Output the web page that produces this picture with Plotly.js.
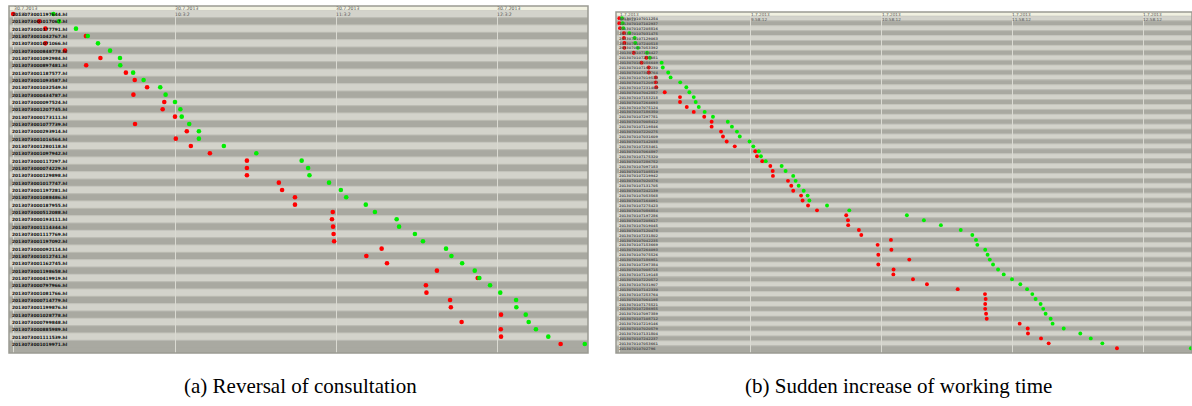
<!DOCTYPE html>
<html><head><meta charset="utf-8">
<script src="https://cdn.plot.ly/plotly-3.0.1.min.js"></script>
<style>html,body{margin:0;padding:0;background:#fff}#chart{width:1192px;height:406px}</style>
</head><body><div id="chart"></div>
<script>
// ---------- Panel (a): Reversal of consultation ----------
const aRows = ["2013073001197644.hl","2013073001017067.hl","2013073000177791.hl","2013073001042767.hl","2013073001071066.hl","2013073000848778.hl","2013073001092984.hl","2013073000897481.hl","2013073001187577.hl","2013073001093587.hl","2013073001032549.hl","2013073000434787.hl","2013073000097524.hl","2013073001207745.hl","2013073000173111.hl","2013073001077739.hl","2013073000293914.hl","2013073001016564.hl","2013073001280118.hl","2013073001097942.hl","2013073000117297.hl","2013073000074229.hl","2013073000129898.hl","2013073001017747.hl","2013073001197281.hl","2013073001088486.hl","2013073000187955.hl","2013073000512088.hl","2013073000193111.hl","2013073001114344.hl","2013073001117769.hl","2013073001197092.hl","2013073000092114.hl","2013073001012741.hl","2013073001162745.hl","2013073001198658.hl","2013073000419919.hl","2013073000797966.hl","2013073001081766.hl","2013073000714779.hl","2013073001199876.hl","2013073001028778.hl","2013073000799848.hl","2013073000885989.hl","2013073001111539.hl","2013073001019971.hl"];
// minutes after 30.7.2013 9:03:02
const aTickVals = [0, 60, 120, 180];
const aTickText = ["30.7.2013<br>9:3:2", "30.7.2013<br>10:3:2", "30.7.2013<br>11:3:2", "30.7.2013<br>12:3:2"];
const aRed = [-0.3, 9.4, 11.7, 26.8, 11.7, 19.0, 32.2, 26.9, 41.7, 45.0, 49.6, 44.5, 56.0, 55.4, 60.0, 45.1, 64.4, 60.3, 65.9, 73.0, 86.8, 86.8, 86.8, 98.7, 99.9, 104.7, 104.7, 118.8, 118.5, 118.9, 119.1, 119.3, 137.0, 131.3, 139.0, 157.6, 172.8, 153.5, 153.7, 162.5, 162.8, 181.5, 166.8, 181.4, 181.5, 203.7];
const aGreen = [14.7, 16.8, 23.1, 27.5, 31.3, 35.8, 39.5, 39.6, 44.4, 48.3, 54.5, 56.5, 60.0, 62.0, 62.5, 65.3, 68.9, 68.9, 78.2, 90.3, 107.2, 109.6, 110.1, 117.4, 121.8, 123.8, 131.1, 134.5, 142.6, 143.5, 149.4, 152.4, 161.0, 163.0, 167.0, 171.7, 173.4, 177.4, 181.2, 187.1, 187.2, 190.7, 191.8, 194.5, 199.1, 212.7];

// ---------- Panel (b): Sudden increase of working time ----------
const bRows = ["2013070107011254","2013070107102937","2013070107208816","2013070107031475","2013070107129063","2013070107240518","2013070107053392","2013070107164427","2013070107275081","2013070107086649","2013070107197230","2013070107308764","2013070107019538","2013070107120973","2013070107231406","2013070107042857","2013070107153218","2013070107264693","2013070107075124","2013070107186350","2013070107297781","2013070107008412","2013070107119846","2013070107220275","2013070107031609","2013070107142038","2013070107253461","2013070107064897","2013070107175320","2013070107286752","2013070107097183","2013070107108519","2013070107219942","2013070107020376","2013070107131705","2013070107242139","2013070107053568","2013070107164091","2013070107275423","2013070107086854","2013070107197286","2013070107208617","2013070107019045","2013070107120478","2013070107231802","2013070107042235","2013070107153669","2013070107264093","2013070107075526","2013070107186951","2013070107297384","2013070107008715","2013070107119148","2013070107220572","2013070107031907","2013070107142330","2013070107253764","2013070107064198","2013070107175521","2013070107286955","2013070107097389","2013070107108712","2013070107219146","2013070107020579","2013070107131804","2013070107242237","2013070107053661","201307010702796"];
// minutes after 1.7.2013 8:58:12
const bTickVals = [0, 60, 120, 180, 240];
const bTickText = ["1.7.2013<br>8:58:12", "1.7.2013<br>9:58:12", "1.7.2013<br>10:58:12", "1.7.2013<br>11:58:12", "1.7.2013<br>12:58:12"];
const bRed = [-0.2, -0.2, 0.1, 1.9, 1.9, 2.1, 2.1, 6.4, 12.2, 10.0, 13.3, 13.3, 16.5, 16.5, 16.7, 20.6, 27.6, 27.6, 30.7, 33.9, 38.7, 42.1, 42.1, 46.4, 47.3, 49.0, 52.7, 62.1, 62.9, 65.3, 69.0, 70.1, 70.2, 77.1, 78.6, 79.5, 83.1, 83.8, 86.3, 90.4, 103.8, 104.6, 104.7, 109.6, 110.7, 124.3, 118.2, 124.5, 118.5, 132.7, 118.5, 125.5, 125.4, 134.4, 140.8, 154.9, 167.4, 167.7, 167.5, 167.5, 167.9, 168.2, 183.3, 187.0, 187.1, 193.1, 196.6, 227.9];
const bGreen = [1.0, 1.3, 1.6, 4.4, 6.8, 7.1, 8.3, 12.5, 13.8, 19.2, 19.7, 22.2, 23.3, 27.7, 30.5, 31.9, 33.9, 34.8, 36.2, 38.9, 42.7, 49.5, 51.4, 53.7, 55.0, 59.5, 61.2, 63.7, 64.7, 66.9, 74.2, 76.0, 79.5, 80.6, 82.0, 84.3, 86.1, 86.9, 95.0, 105.2, 131.6, 139.4, 147.2, 156.3, 161.6, 163.3, 163.9, 167.5, 168.6, 169.6, 171.1, 173.4, 176.0, 179.8, 183.6, 186.7, 189.1, 190.6, 192.9, 194.1, 195.2, 197.5, 198.4, 203.5, 211.1, 215.9, 221.2, 261.8];

const captions = ["(a) Reversal of consultation", "(b) Sudden increase of working time"];

// ---------- styles ----------
const W = 1192, H = 406;
const LIGHT = '#d3d3cb', DARK = '#a9a9a1', HEADER = '#f1f1e1', GRID = '#dadad2';
const RED = '#ff0000', GREEN = '#00ee00';

const panels = [
  {rows: aRows, red: aRed, green: aGreen, tv: aTickVals, tt: aTickText, xa: 'x', ya: 'y',
   xrange: [-1.86, 213.9], yrange: [46.23, -1.09], msize: 4.6, lfont: 4.4, lcolor: '#111111', tfont: 4.6},
  {rows: bRows, red: bRed, green: bGreen, tv: bTickVals, tt: bTickText, xa: 'x2', ya: 'y2',
   xrange: [-1.74, 262.3], yrange: [67.96, -1.28], msize: 3.9, lfont: 3.5, lcolor: '#555555', tfont: 4.2}
];

const traces = [];
const shapes = [];
const annotations = [];

panels.forEach(p => {
  const idx = p.rows.map((_, i) => i);
  traces.push({type: 'scatter', mode: 'markers', x: p.red, y: idx, xaxis: p.xa, yaxis: p.ya,
    marker: {color: RED, size: p.msize, symbol: 'circle', line: {width: 0}}, hoverinfo: 'skip', showlegend: false});
  traces.push({type: 'scatter', mode: 'markers', x: p.green, y: idx, xaxis: p.xa, yaxis: p.ya,
    marker: {color: GREEN, size: p.msize, symbol: 'circle', line: {width: 0}}, hoverinfo: 'skip', showlegend: false});
  const xd = p.xa + ' domain', yd = p.ya + ' domain';
  // row bands
  idx.forEach(i => {
    shapes.push({type: 'rect', xref: xd, yref: p.ya, x0: 0, x1: 1, y0: i - 0.5, y1: i + 0.5,
      fillcolor: i % 2 === 0 ? LIGHT : DARK, line: {width: 0}, layer: 'below'});
    shapes.push({type: 'line', xref: xd, yref: p.ya, x0: 0, x1: 1, y0: i - 0.5, y1: i - 0.5,
      line: {width: 1, color: i % 2 === 0 ? '#c6c6be' : '#bcbcb4'}, layer: 'below'});
    annotations.push({xref: xd, yref: p.ya, x: 0.003, y: i, xanchor: 'left', yanchor: 'middle',
      text: p.rows[i], showarrow: false, borderpad: 0, yshift: -0.6,
      font: {family: 'DejaVu Sans', size: p.lfont, color: p.lcolor, weight: 'bold'}});
  });
  // header strip
  shapes.push({type: 'rect', xref: xd, yref: p.ya, x0: 0, x1: 1, y0: -0.5, y1: p.yrange[1],
    fillcolor: HEADER, line: {width: 0}, layer: 'above'});
  // frame
  shapes.push({type: 'rect', xref: xd, yref: yd, x0: 0, x1: 1, y0: 0, y1: 1,
    line: {width: 1.5, color: '#9a9a92'}, layer: 'above'});
  // time tick labels
  p.tv.forEach((v, k) => {
    annotations.push({xref: p.xa, yref: yd, x: v, y: 1, xanchor: 'left', yanchor: 'top', align: 'left',
      text: p.tt[k], showarrow: false, borderpad: 0, xshift: -1, yshift: 0.5,
      font: {family: 'DejaVu Sans', size: p.tfont, color: '#555'}});
  });
});

// captions
annotations.push({xref: 'paper', yref: 'paper', x: 300 / W, y: (H - 386) / H, xanchor: 'center', yanchor: 'middle',
  text: captions[0], showarrow: false, font: {family: 'Liberation Serif', size: 21, color: '#000'}});
annotations.push({xref: 'paper', yref: 'paper', x: 898 / W, y: (H - 386) / H, xanchor: 'center', yanchor: 'middle',
  text: captions[1], showarrow: false, font: {family: 'Liberation Serif', size: 21, color: '#000'}});

const axBase = {showgrid: true, gridcolor: GRID, gridwidth: 1, zeroline: false, showline: false,
  ticks: '', showticklabels: false, fixedrange: true};
const yBase = {showgrid: false, zeroline: false, showline: false, ticks: '', showticklabels: false, fixedrange: true};

const layout = {
  width: W, height: H, margin: {l: 0, r: 0, t: 0, b: 0},
  paper_bgcolor: '#ffffff', plot_bgcolor: '#a9a9a1',
  xaxis: Object.assign({}, axBase, {domain: [9 / W, 588 / W], range: panels[0].xrange, tickvals: aTickVals, anchor: 'y'}),
  yaxis: Object.assign({}, yBase, {domain: [(H - 353) / H, (H - 6) / H], range: panels[0].yrange, anchor: 'x'}),
  xaxis2: Object.assign({}, axBase, {domain: [616 / W, 1], range: panels[1].xrange, tickvals: bTickVals, anchor: 'y2'}),
  yaxis2: Object.assign({}, yBase, {domain: [(H - 353) / H, (H - 12) / H], range: panels[1].yrange, anchor: 'x2'}),
  shapes: shapes, annotations: annotations, showlegend: false
};

Plotly.newPlot('chart', traces, layout, {displayModeBar: false, staticPlot: true});
</script></body></html>
